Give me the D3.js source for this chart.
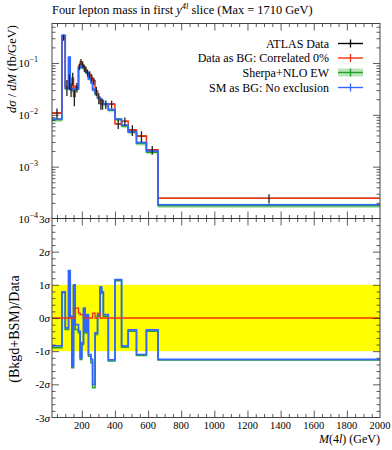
<!DOCTYPE html>
<html><head><meta charset="utf-8">
<script src="https://cdn.jsdelivr.net/npm/d3@7"></script>
<style>body{margin:0;background:#fff}</style>
</head><body>
<script>
// ---------------- data ----------------
const binEdges = [20, 80, 100, 120, 130, 140, 150, 160, 180, 190, 200, 210, 220, 230, 240, 255, 265, 280, 295, 310, 320, 330, 360, 400, 440, 480, 530, 590, 660, 2000];
const dataVals = [0.0108, 0.31, 0.035, 0.045, 0.031, 0.051, 0.0226, 0.034, 0.085, 0.105, 0.093, 0.080, 0.074, 0.064, 0.060, 0.052, 0.045, 0.029, 0.021, 0.0165, 0.016, 0.0160, 0.0160, 0.0067, 0.0075, 0.0051, 0.0039, 0.0021, 0.000245];
const dataErr  = [0.0024, 0.04, 0.012, 0.015, 0.009, 0.014, 0.008, 0.007, 0.012, 0.015, 0.014, 0.012, 0.011, 0.010, 0.009, 0.008, 0.007, 0.006, 0.005, 0.004, 0.0035, 0.003, 0.0027, 0.0014, 0.0014, 0.0012, 0.0009, 0.0004, 0.00005];
const redVals  = [0.0108, 0.31, 0.035, 0.045, 0.031, 0.051, 0.0226, 0.036, 0.087, 0.106, 0.094, 0.083, 0.074, 0.064, 0.060, 0.052, 0.046, 0.029, 0.0218, 0.0165, 0.016, 0.0160, 0.0160, 0.0067, 0.0075, 0.0051, 0.0039, 0.0021, 0.000245];
const greenVals= [0.0080, 0.33, 0.032, 0.125, 0.0305, 0.029, 0.030, 0.031, 0.078, 0.086, 0.081, 0.081, 0.068, 0.063, 0.049, 0.041, 0.030, 0.025, 0.021, 0.0198, 0.0183, 0.0158, 0.0122, 0.0081, 0.0061, 0.0046, 0.0028, 0.0019, 0.000176];
const greenErr = [0.0007, 0.025, 0.0025, 0.01, 0.0025, 0.0024, 0.0024, 0.0025, 0.006, 0.007, 0.0065, 0.0065, 0.0055, 0.005, 0.004, 0.0033, 0.0024, 0.002, 0.0017, 0.0016, 0.0015, 0.0013, 0.001, 0.0007, 0.0005, 0.0004, 0.00025, 0.00017, 0.000016];
const blueVals = [0.0083, 0.34, 0.0328, 0.13, 0.0314, 0.030, 0.031, 0.032, 0.080, 0.088, 0.083, 0.083, 0.070, 0.065, 0.050, 0.042, 0.031, 0.026, 0.0215, 0.0203, 0.0188, 0.0163, 0.0126, 0.0083, 0.0063, 0.0047, 0.0029, 0.0020, 0.000184];

const blueRatio  = [-0.84, 0.79, -0.3, 1.43, 0.05, -1.45, 1.0, -0.2, -0.4, -1.2, -0.75, 0.3, -0.4, 0.1, -1.1, -1.25, -2.0, -0.45, 0.1, 0.94, 0.79, 0.1, -1.26, 1.16, -0.84, -0.36, -1.1, -0.36, -1.25];
const greenRatio = [-0.9, 0.76, -0.35, 1.4, 0.0, -1.5, 0.95, -0.35, -0.45, -1.25, -0.8, 0.25, -0.45, 0.05, -1.15, -1.35, -2.1, -0.5, 0.05, 0.9, 0.75, 0.05, -1.3, 1.12, -0.88, -0.4, -1.13, -0.4, -1.27];
const redRatio   = [0, 0, 0, 0, 0, 0, 0, 0.3, 0.15, 0.1, 0.1, 0, 0, 0, 0, 0, 0.15, 0, 0.15, 0, 0, 0, 0, 0, 0, 0, 0, 0, 0];

const xMajorTicks = [200, 400, 600, 800, 1000, 1200, 1400, 1600, 1800, 2000];
const xTickLabels = ["200", "400", "600", "800", "1000", "1200", "1400", "1600", "1800", "2000"];
const yTopDecades = [1e-1, 1e-2, 1e-3, 1e-4];
const yTopExp = ["−1", "−2", "−3", "−4"];
const sigmaTicks = [3, 2, 1, 0, -1, -2, -3];
const sigmaLabels = ["3", "2", "1", "0", "-1", "-2", "-3"];
const legendLabels = ["ATLAS Data", "Data as BG: Correlated 0%", "Sherpa+NLO EW", "SM as BG: No exclusion"];

// ---------------- layout ----------------
const W = 392, H = 450;
const L = 52, R = 380, T = 23.5, B1 = 218.5, B2 = 417.5;
const C_RED = "#ee3311", C_BLUE = "#3366ff", C_GREEN = "#22a12a", C_BAND = "#a9dca9";
const FONT = "'Liberation Serif', 'DejaVu Serif', serif";

const svg = d3.select("body").append("svg").attr("width", W).attr("height", H)
  .style("font-family", FONT);

const x = d3.scaleLinear().domain([20, 2000]).range([L, R]);
const yT = d3.scaleLog().domain([1e-4, 0.578]).range([B1, T]);
const yR = d3.scaleLinear().domain([-3, 3]).range([B2, B1]);

const defs = svg.append("defs");
defs.append("clipPath").attr("id", "cTop").append("rect").attr("x", L).attr("y", T).attr("width", R - L).attr("height", B1 - T);
defs.append("clipPath").attr("id", "cRat").append("rect").attr("x", L).attr("y", B1).attr("width", R - L).attr("height", B2 - B1);

function stepPts(vals) {
  const pts = vals.map((v, i) => [binEdges[i], v]);
  pts.push([binEdges[binEdges.length - 1], vals[vals.length - 1]]);
  return pts;
}
const binIdx = d3.range(dataVals.length);

// ---------------- top panel ----------------
const gT = svg.append("g").attr("clip-path", "url(#cTop)");
const lineT = d3.line().x(d => x(d[0])).y(d => yT(d[1])).curve(d3.curveStepAfter);

const bandArea = d3.area().x(d => x(d[0])).y0(d => yT(d[1])).y1(d => yT(d[2])).curve(d3.curveStepAfter);
const bandPts = binIdx.map(i => [binEdges[i], greenVals[i] - greenErr[i], greenVals[i] + greenErr[i]]);
bandPts.push([binEdges[binEdges.length - 1], bandPts[bandPts.length - 1][1], bandPts[bandPts.length - 1][2]]);
gT.append("path").attr("d", bandArea(bandPts)).attr("fill", C_BAND).attr("opacity", 0.8);

gT.selectAll("line.dh").data(binIdx).enter().append("line")
  .attr("x1", i => x(binEdges[i])).attr("x2", i => x(binEdges[i + 1]))
  .attr("y1", i => yT(dataVals[i])).attr("y2", i => yT(dataVals[i]))
  .attr("stroke", "#000").attr("stroke-width", 1.3);

gT.append("path").attr("d", lineT(stepPts(greenVals))).attr("fill", "none").attr("stroke", C_GREEN).attr("stroke-width", 1.5);
gT.append("path").attr("d", lineT(stepPts(redVals))).attr("fill", "none").attr("stroke", C_RED).attr("stroke-width", 1.5);
gT.append("path").attr("d", lineT(stepPts(blueVals))).attr("fill", "none").attr("stroke", C_BLUE).attr("stroke-width", 1.7);

gT.selectAll("line.dv").data(binIdx).enter().append("line")
  .attr("x1", i => x((binEdges[i] + binEdges[i + 1]) / 2)).attr("x2", i => x((binEdges[i] + binEdges[i + 1]) / 2))
  .attr("y1", i => yT(Math.max(dataVals[i] - dataErr[i], 1e-6))).attr("y2", i => yT(dataVals[i] + dataErr[i]))
  .attr("stroke", "#222").attr("stroke-width", 1.3);

// ---------------- ratio panel ----------------
const gR = svg.append("g").attr("clip-path", "url(#cRat)");
gR.append("rect").attr("x", L).attr("width", R - L).attr("y", yR(1)).attr("height", yR(-1) - yR(1)).attr("fill", "#ffff00");
const lineR = d3.line().x(d => x(d[0])).y(d => yR(d[1])).curve(d3.curveStepAfter);
gR.append("path").attr("d", lineR(stepPts(greenRatio))).attr("fill", "none").attr("stroke", C_GREEN).attr("stroke-width", 1.5);
gR.append("path").attr("d", lineR(stepPts(blueRatio))).attr("fill", "none").attr("stroke", C_BLUE).attr("stroke-width", 1.7);
gR.append("path").attr("d", lineR(stepPts(redRatio))).attr("fill", "none").attr("stroke", C_RED).attr("stroke-width", 1.3);

// ---------------- ticks ----------------
const xMinor = d3.range(50, 2001, 50).filter(v => v % 200 !== 0 && v >= 20);
function xAxisTicks(yPos, orient, vals, len) {
  const ax = (orient === "top" ? d3.axisTop(x) : d3.axisBottom(x)).tickValues(vals).tickSize(-len).tickFormat("");
  const g = svg.append("g").attr("transform", `translate(0,${yPos})`).call(ax);
  g.select(".domain").remove();
  g.selectAll("line").attr("stroke", "#333").attr("stroke-width", 0.8);
}
[[T, "top"], [B1, "bottom"], [B1, "top"], [B2, "bottom"]].forEach(([yp, o]) => {
  xAxisTicks(yp, o, xMajorTicks.filter(v => v < 2000), 7);
  xAxisTicks(yp, o, xMinor, 3.5);
});

const yMinor = [];
[1e-4, 1e-3, 1e-2, 1e-1].forEach(d => { for (let k = 2; k <= 9; k++) if (d * k < 0.578) yMinor.push(d * k); });
function yAxisTicks(scale, xPos, orient, vals, len) {
  const ax = (orient === "left" ? d3.axisLeft(scale) : d3.axisRight(scale)).tickValues(vals).tickSize(-len).tickFormat("");
  const g = svg.append("g").attr("transform", `translate(${xPos},0)`).call(ax);
  g.select(".domain").remove();
  g.selectAll("line").attr("stroke", "#333").attr("stroke-width", 0.8);
}
yAxisTicks(yT, L, "left", yTopDecades.slice(0, 3), 7);
yAxisTicks(yT, L, "left", yMinor, 3.5);
yAxisTicks(yT, R, "right", yTopDecades.slice(0, 3), 7);
yAxisTicks(yT, R, "right", yMinor, 3.5);
const sMinor = d3.range(-2.8, 2.81, 0.2).map(v => +v.toFixed(1)).filter(v => Math.abs(v - Math.round(v)) > 0.01);
yAxisTicks(yR, L, "left", [2, 1, 0, -1, -2], 7);
yAxisTicks(yR, L, "left", sMinor, 3.5);
yAxisTicks(yR, R, "right", [2, 1, 0, -1, -2], 7);
yAxisTicks(yR, R, "right", sMinor, 3.5);

svg.append("rect").attr("x", L).attr("y", T).attr("width", R - L).attr("height", B1 - T).attr("fill", "none").attr("stroke", "#333").attr("stroke-width", 0.9);
svg.append("rect").attr("x", L).attr("y", B1).attr("width", R - L).attr("height", B2 - B1).attr("fill", "none").attr("stroke", "#333").attr("stroke-width", 0.9);

// ---------------- labels ----------------
yTopDecades.forEach((d, i) => {
  const t = svg.append("text").attr("x", 38).attr("y", yT(d) + 4).attr("text-anchor", "end").attr("font-size", 11);
  t.append("tspan").text("10");
  t.append("tspan").attr("dy", -4.5).attr("font-size", 8).text(yTopExp[i]);
});
sigmaTicks.forEach((s, i) => {
  const t = svg.append("text").attr("x", 50).attr("y", yR(s) + 4).attr("text-anchor", "end").attr("font-size", 11);
  t.append("tspan").text(sigmaLabels[i]);
  t.append("tspan").attr("font-style", "italic").text("σ");
});
svg.selectAll("text.xl").data(xMajorTicks).enter().append("text")
  .attr("x", d => x(d)).attr("y", 428.5).attr("text-anchor", "middle").attr("font-size", 10.5)
  .text((d, i) => xTickLabels[i]);

const xt = svg.append("text").attr("x", 380).attr("y", 443).attr("text-anchor", "end").attr("font-size", 12);
xt.append("tspan").attr("font-style", "italic").text("M");
xt.append("tspan").text("(4");
xt.append("tspan").attr("font-style", "italic").text("l");
xt.append("tspan").text(") (GeV)");

const yt = svg.append("text").attr("transform", "translate(16,69) rotate(-90)").attr("text-anchor", "middle").attr("font-size", 12.5);
yt.append("tspan").attr("font-style", "italic").text("dσ");
yt.append("tspan").text(" / ");
yt.append("tspan").attr("font-style", "italic").text("dM");
yt.append("tspan").text(" (fb/GeV)");

svg.append("text").attr("transform", "translate(19,329) rotate(-90)").attr("text-anchor", "middle").attr("font-size", 14)
  .text("(Bkgd+BSM)/Data");

const tt = svg.append("text").attr("x", 52).attr("y", 14).attr("font-size", 12.4);
tt.append("tspan").text("Four lepton mass in first ");
tt.append("tspan").attr("font-style", "italic").text("y");
tt.append("tspan").attr("dy", -5).attr("font-size", 8.5).attr("font-style", "italic").text("4l");
tt.append("tspan").attr("dy", 5).text(" slice (Max = 1710 GeV)");

const legColors = ["#000", C_RED, C_GREEN, C_BLUE];
const legY = [43.5, 58, 72.5, 87.5];
legendLabels.forEach((lab, i) => {
  const yy = legY[i];
  svg.append("text").attr("x", 329).attr("y", yy + 4).attr("text-anchor", "end").attr("font-size", 12).text(lab);
  if (i === 2) svg.append("rect").attr("x", 338).attr("y", yy - 4).attr("width", 25).attr("height", 8).attr("fill", C_BAND).attr("opacity", 0.8);
  svg.append("line").attr("x1", 338).attr("x2", 363).attr("y1", yy).attr("y2", yy).attr("stroke", legColors[i]).attr("stroke-width", 1.4);
  svg.append("line").attr("x1", 350.5).attr("x2", 350.5).attr("y1", yy - 4).attr("y2", yy + 4).attr("stroke", legColors[i]).attr("stroke-width", 1.3);
});
</script>
</body></html>
